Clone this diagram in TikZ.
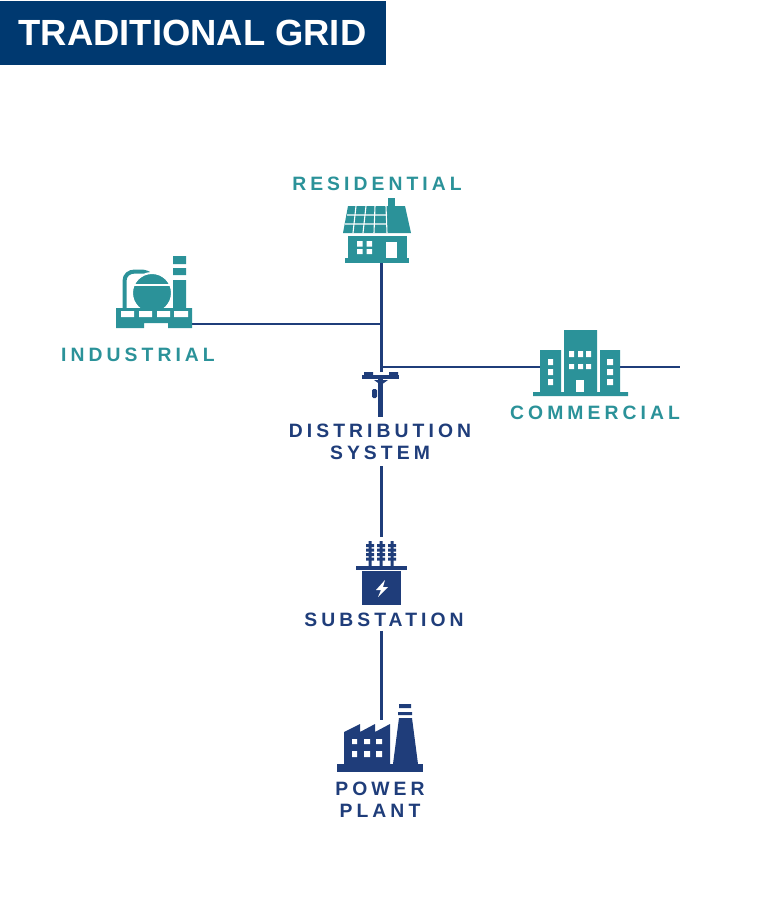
\documentclass[tikz,border=0pt]{standalone}
\usepackage{fontspec}
\setmainfont{Liberation Sans}
\newfontfamily\spacedfont[LetterSpace=21]{Liberation Sans}
\usetikzlibrary{positioning}
\definecolor{mynavy}{RGB}{31, 61, 122}
\definecolor{myteal}{RGB}{43, 146, 153}
\definecolor{mytitle}{RGB}{0, 57, 112}

\begin{document}
\begin{tikzpicture}[
    x=0.75pt, y=-0.75pt,
    iconbox/.style={rectangle, inner sep=0pt, outer sep=0pt},
    navylabel/.style={text=mynavy, align=center, inner sep=0pt, font=\spacedfont\bfseries\fontsize{14.5}{16.5}\selectfont},
    teallabel/.style={text=myteal, align=center, inner sep=0pt, font=\spacedfont\bfseries\fontsize{14.5}{16.5}\selectfont},
    wire/.style={draw=mynavy, line width=2.2pt},
    navyfill/.style={fill=mynavy},
    tealfill/.style={fill=myteal},
    cutout/.style={fill=white}
]
\useasboundingbox (0,0) rectangle (762,914);

% Title
\node[rectangle, fill=mytitle, text=white, minimum width=290.25pt, minimum height=48pt, inner sep=0pt, font=\bfseries\fontsize{27.3}{30}\selectfont] (title) at (192.5,33) {TRADITIONAL GRID};

% Labels
\node[teallabel] (residential) at (377,184) {RESIDENTIAL};
\node[teallabel] (industrial) at (138,355) {INDUSTRIAL};
\node[teallabel] (commercial) at (595,413) {COMMERCIAL};
\node[navylabel, minimum height=36pt] (distribution) at (380,442) {DISTRIBUTION\\SYSTEM};
\node[navylabel, minimum height=16pt] (substation) at (384,620) {SUBSTATION};
\node[navylabel] (power_plant) at (380,800) {POWER\\PLANT};

% Icon places
\node[iconbox, minimum width=48pt, minimum height=19.5pt] (house) at (381.5,250) {};
\node[iconbox, minimum width=57pt, minimum height=6pt] (refinery) at (154,324) {};
\node[iconbox, minimum width=60pt, minimum height=37.5pt] (office) at (580,367) {};
\node[iconbox, minimum width=27.75pt, minimum height=33.75pt] (pole) at (381.5,394) {};
\node[iconbox, minimum width=38.25pt, minimum height=51pt] (transformer) at (381.5,571) {};
\node[iconbox, minimum width=64.5pt, minimum height=39pt] (plant) at (381.5,746) {};
\coordinate (tap_industrial) at (381.5,324);
\coordinate (tap_commercial) at (381.5,367);
\coordinate (commercial_end) at (680,367);

% Connectors
\draw[wire] (house.south) -- (pole.north);
\draw[wire] (refinery.east) -- (tap_industrial);
\draw[wire] (tap_commercial) -- (office.west);
\draw[wire] (office.east) -- (commercial_end);
\draw[wire] (distribution.south -| transformer.north) -- (transformer.north);
\draw[wire] (substation.south -| transformer.south) -- (plant.north);

% House
\fill[tealfill] (348,206) -- (405,206) -- (411,233) -- (343,233) -- cycle;
\fill[tealfill] (388,198) rectangle (395,207);
\fill[tealfill] (348,236) rectangle (407,258);
\fill[tealfill] (345,258) rectangle (409,263);
\draw[white, line width=0.8pt] (356,206) -- (353,233) (366,206) -- (363,233) (375,206) -- (374,233) (386,206) -- (387,233) (347,215) -- (387,215) (345,224) -- (387,224);
\fill[cutout] (357,241) rectangle (362.5,246.5) (366.5,241) rectangle (372,246.5) (357,249) rectangle (362.5,254) (366.5,249) rectangle (372,254);
\fill[cutout] (386,242) rectangle (397,258);

% Refinery
\draw[myteal, line width=3pt] (124.5,308) -- (124.5,281) .. controls (124.5,275) and (129,271.5) .. (135,271.5) -- (141,271.5) .. controls (145,271.5) and (149,273) .. (152,276);
\fill[tealfill, draw=white, line width=1.5pt] (152,293) circle (20);
\fill[cutout] (130,283.5) rectangle (175,286);
\fill[tealfill] (116,308) -- (192,308) -- (192,328) -- (168,328) -- (168,323) -- (144,323) -- (144,328) -- (116,328) -- cycle;
\fill[cutout] (121,311) rectangle (134,317) (139,311) rectangle (152,317) (157,311) rectangle (170,317) (174,311) rectangle (188,317);
\fill[tealfill] (173,256) rectangle (186,264) (173,268) rectangle (186,275) (173,280) rectangle (186,308);

% Office
\fill[tealfill] (564,330) rectangle (597,392) (540,350) rectangle (561,392) (600,350) rectangle (620,392) (533,392) rectangle (628,396);
\fill[cutout] (548,359) rectangle (553,365) (548,369) rectangle (553,375) (548,379) rectangle (553,385);
\fill[cutout] (607,359) rectangle (613,365) (607,369) rectangle (613,375) (607,379) rectangle (613,385);
\fill[cutout] (569,351) rectangle (574,357) (578,351) rectangle (583,357) (586,351) rectangle (591,357);
\fill[cutout] (569,364) rectangle (574,369) (578,364) rectangle (583,369) (586,364) rectangle (591,369);
\fill[cutout] (576,380) rectangle (584,392);

% Pole
\fill[navyfill] (362,375) rectangle (399,379);
\fill[navyfill] (364,372) rectangle (373,375) (389,372) rectangle (398,375);
\fill[navyfill] (378,379) rectangle (383,417);
\fill[navyfill] (374,380) -- (388,380) -- (381,385) -- cycle;
\fill[navyfill, rounded corners=1pt] (372,389) rectangle (377,398);

% Transformer
\fill[navyfill] (362,571) rectangle (401,605);
\fill[navyfill] (356,566) rectangle (407,570);
\fill[navyfill] (368.5,541) rectangle (371.5,566) (379.5,541) rectangle (382.5,566) (390.5,541) rectangle (393.5,566);
\fill[navyfill] (366,544) rectangle (374,547) (366,548.5) rectangle (374,551.5) (366,553) rectangle (374,556) (366,557.5) rectangle (374,560.5);
\fill[navyfill] (377,544) rectangle (385,547) (377,548.5) rectangle (385,551.5) (377,553) rectangle (385,556) (377,557.5) rectangle (385,560.5);
\fill[navyfill] (388,544) rectangle (396,547) (388,548.5) rectangle (396,551.5) (388,553) rectangle (396,556) (388,557.5) rectangle (396,560.5);
\fill[cutout] (385,580) -- (376,590) -- (381,590) -- (378,597) -- (388,587) -- (383,587) -- cycle;

% Plant
\fill[navyfill] (337,764) rectangle (423,772);
\fill[navyfill] (344,732) -- (360,724) -- (360,732) -- (375,724) -- (375,732) -- (390,724) -- (390,764) -- (344,764) -- cycle;
\fill[cutout] (352,739) rectangle (357,744) (364,739) rectangle (370,744) (376,739) rectangle (382,744);
\fill[cutout] (352,751) rectangle (357,757) (364,751) rectangle (370,757) (376,751) rectangle (382,757);
\fill[navyfill] (399,718) -- (412,718) -- (418,764) -- (393,764) -- cycle;
\fill[navyfill] (399,704) rectangle (411,708) (398,712) rectangle (412,715);

\end{tikzpicture}
\end{document}
